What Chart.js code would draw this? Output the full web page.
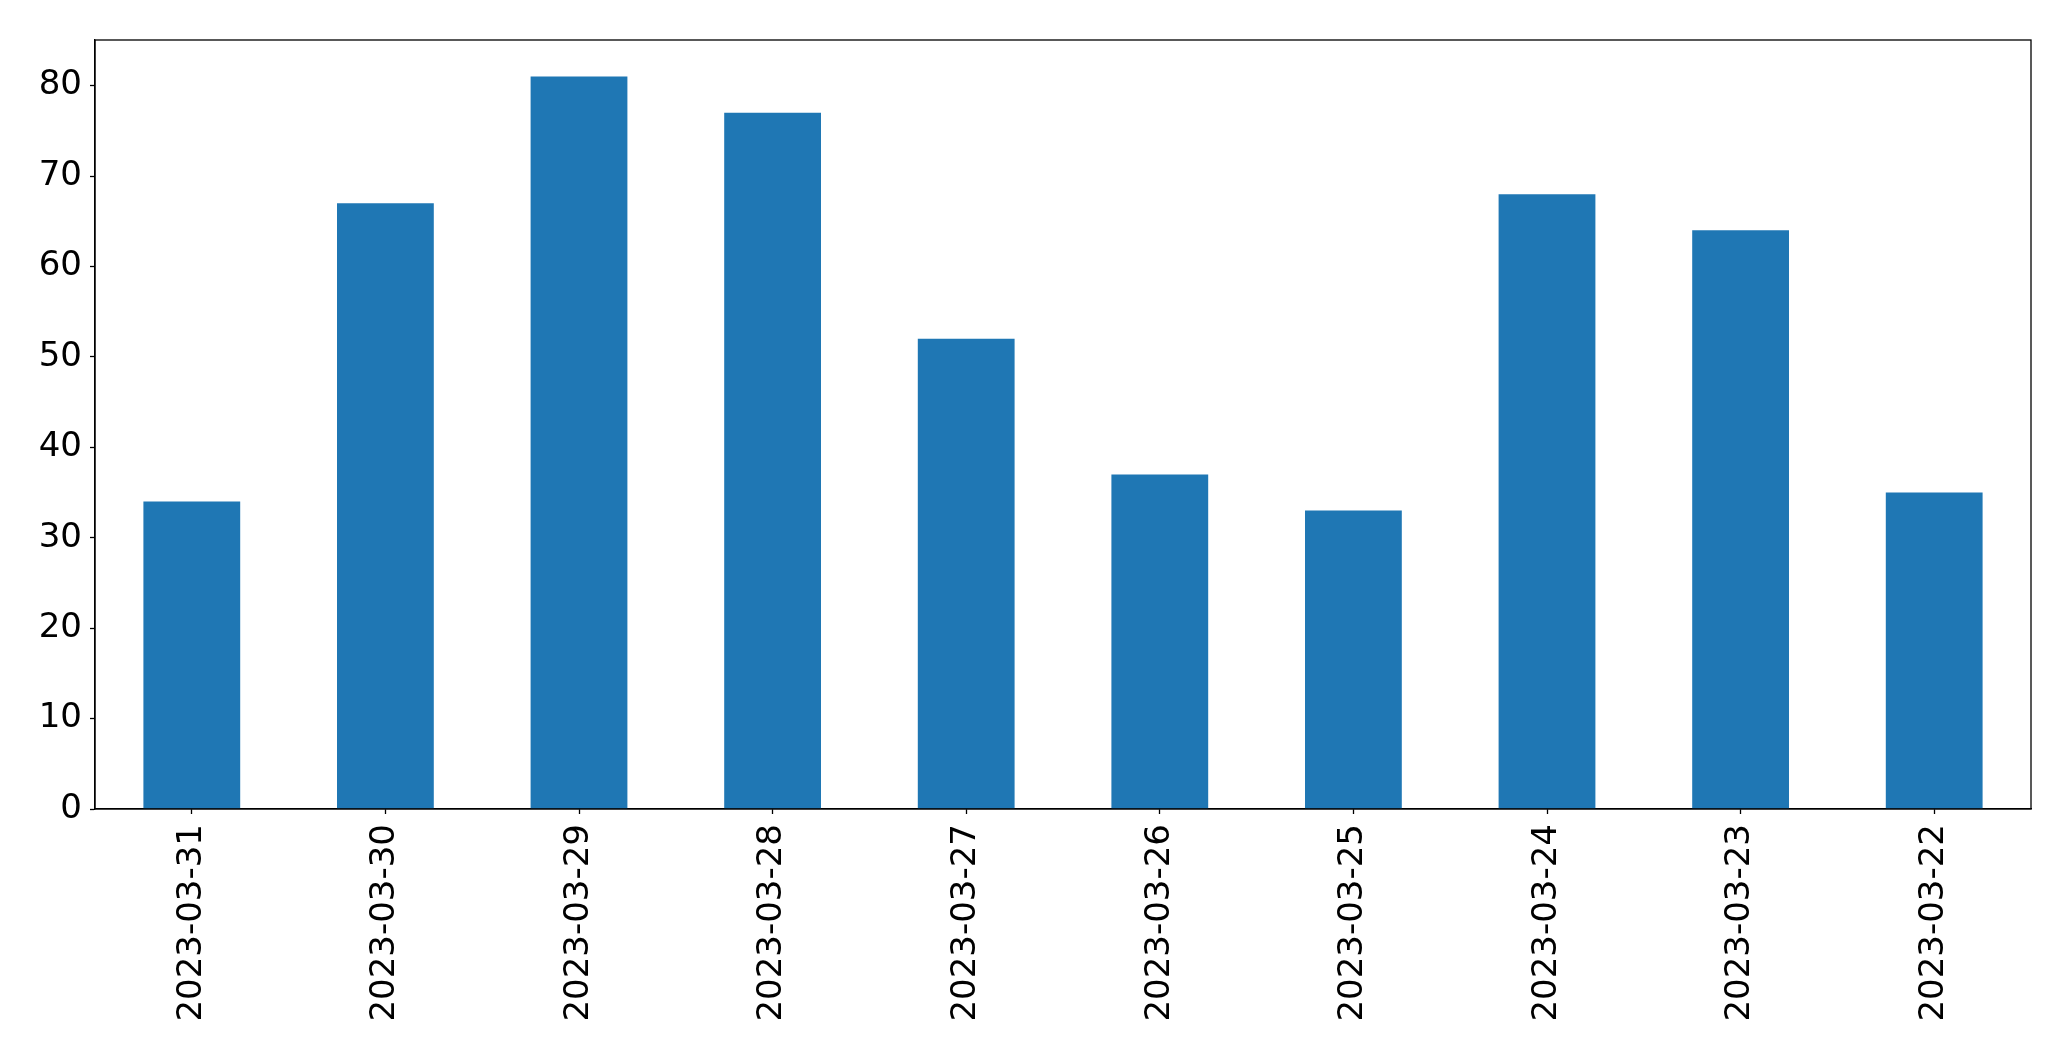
<!DOCTYPE html>
<html>
<head>
<meta charset="utf-8">
<script src="https://cdn.jsdelivr.net/npm/chart.js@4"></script>
<style>
  html, body { margin: 0; padding: 0; background: #fff; }
  #wrap { width: 2071px; height: 1061px; }
</style>
</head>
<body>
<div id="wrap"><canvas id="chart" width="2071" height="1061"></canvas></div>
<script>
// Data
const dates = ["2023-03-31", "2023-03-30", "2023-03-29", "2023-03-28", "2023-03-27",
               "2023-03-26", "2023-03-25", "2023-03-24", "2023-03-23", "2023-03-22"];
const counts = [34, 67, 81, 77, 52, 37, 33, 68, 64, 35];
const yTicks = [0, 10, 20, 30, 40, 50, 60, 70, 80];

const FONT = { family: "DejaVu Sans", size: 34 };

// Draw the box around the plot area
const frame = {
  id: "frame",
  afterDraw(chart) {
    const a = chart.chartArea;
    const ctx = chart.ctx;
    ctx.save();
    ctx.strokeStyle = "#000";
    ctx.lineWidth = 1.3;
    ctx.strokeRect(a.left, a.top, a.right - a.left, a.bottom - a.top);
    ctx.restore();
  }
};

new Chart(document.getElementById("chart"), {
  type: "bar",
  data: {
    labels: dates,
    datasets: [{
      data: counts,
      backgroundColor: "#1f77b4",
      barPercentage: 0.5,
      categoryPercentage: 1.0
    }]
  },
  options: {
    responsive: false,
    animation: false,
    layout: { padding: { top: 40, right: 40, left: 0, bottom: 0 } },
    plugins: { legend: { display: false }, tooltip: { enabled: false } },
    scales: {
      x: {
        offset: true,
        grid: { offset: false, drawOnChartArea: false, tickLength: 5, tickColor: "#000", tickWidth: 1.3 },
        border: { color: "#000", width: 1.3 },
        ticks: { color: "#000", font: FONT, minRotation: 90, maxRotation: 90, padding: 10 },
        afterFit(scale) { scale.height = 1061 - 809; }
      },
      y: {
        min: 0,
        max: 85.05,
        afterBuildTicks(scale) { scale.ticks = yTicks.map(v => ({ value: v })); },
        grid: { drawOnChartArea: false, tickLength: 5, tickColor: "#000", tickWidth: 1.3 },
        border: { color: "#000", width: 1.3 },
        ticks: { color: "#000", font: FONT, padding: 8 },
        afterFit(scale) { scale.width = 95; }
      }
    }
  },
  plugins: [frame]
});
</script>
</body>
</html>
